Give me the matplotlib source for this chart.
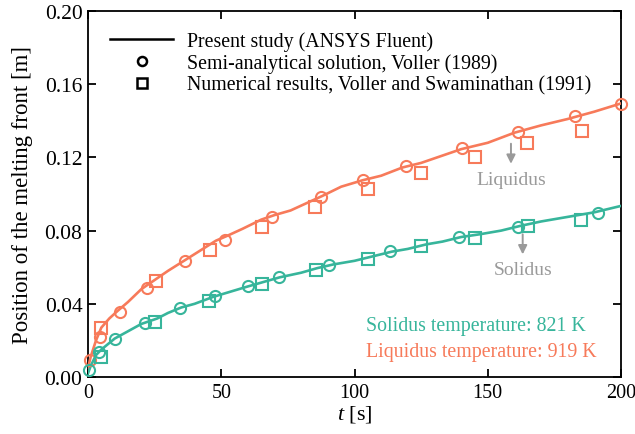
import matplotlib
matplotlib.use("Agg")
import matplotlib.pyplot as plt
from matplotlib.lines import Line2D

plt.rcParams['font.family'] = ['Liberation Serif', 'DejaVu Serif']
plt.rcParams['mathtext.fontset'] = 'custom'
plt.rcParams['mathtext.it'] = 'Liberation Serif:italic'
plt.rcParams['mathtext.rm'] = 'Liberation Serif'

ORANGE = '#F77A5A'
TEAL = '#37B59B'
GRAY = '#9A9A9A'

# Present study (lines)
liq_line_t = [0, 1, 3, 5, 8, 11, 15, 20, 25, 30, 36, 42, 48, 52, 58, 65, 70, 76, 82, 88, 95,
              103, 110, 118, 125, 132, 140, 150, 160, 170, 180, 190, 200]
liq_line_y = [0.005, 0.011, 0.020, 0.027, 0.032, 0.036, 0.041, 0.048, 0.053, 0.058, 0.0635,
              0.069, 0.0745, 0.077, 0.081, 0.086, 0.0885, 0.091, 0.095, 0.099, 0.104,
              0.1075, 0.110, 0.1145, 0.117, 0.1205, 0.1245, 0.128, 0.1335, 0.1375, 0.141,
              0.145, 0.1495]
sol_line_t = [0, 1, 3, 5, 10, 15, 20, 26, 30, 35, 40, 47, 52, 60, 66, 72, 80, 86, 92, 100,
              107, 114, 120, 127, 133, 140, 147, 155, 162, 170, 180, 190, 200]
sol_line_y = [0.002, 0.006, 0.012, 0.015, 0.021, 0.025, 0.029, 0.032, 0.035, 0.038, 0.040,
              0.0438, 0.046, 0.0495, 0.052, 0.0545, 0.057, 0.0595, 0.0615, 0.0635, 0.066,
              0.0685, 0.070, 0.0725, 0.074, 0.0765, 0.078, 0.080, 0.0825, 0.085, 0.0875,
              0.090, 0.0935]

# Semi-analytical solution (circles)
liq_circ_t = [0.8, 4.6, 11.9, 22.2, 36.5, 51.3, 69.0, 87.5, 103.2, 119.2, 140.3, 161.3, 182.9, 200]
liq_circ_y = [0.0091, 0.0218, 0.0356, 0.0487, 0.0633, 0.0751, 0.0876, 0.0985, 0.1076,
              0.1151, 0.1249, 0.1338, 0.1427, 0.1491]
sol_circ_t = [0.4, 4.1, 10.3, 21.3, 34.5, 47.7, 59.9, 71.8, 90.3, 113.2, 139.3, 161.3, 191.4]
sol_circ_y = [0.0036, 0.0136, 0.0209, 0.0295, 0.0376, 0.0442, 0.0496, 0.0545, 0.0613,
              0.0687, 0.0765, 0.0822, 0.0896]

# Numerical results (squares)
liq_sq_t = [5.0, 25.5, 45.6, 65.2, 85.0, 105.0, 124.9, 145.1, 164.7, 185.5]
liq_sq_y = [0.0269, 0.0524, 0.0693, 0.082, 0.0931, 0.1029, 0.1116, 0.1202, 0.1278, 0.1344]
sol_sq_t = [5.0, 25.1, 45.3, 65.2, 85.4, 105.2, 124.9, 145.1, 165.0, 184.8]
sol_sq_y = [0.0109, 0.0302, 0.0418, 0.0509, 0.0584, 0.0647, 0.0716, 0.0758, 0.0827, 0.086]

x_ticks = [0, 50, 100, 150, 200]
y_ticks = [0.00, 0.04, 0.08, 0.12, 0.16, 0.20]

fig = plt.figure(figsize=(6.35, 4.35), dpi=100)
ax = fig.add_axes([0.1386, 0.131, 0.8394, 0.8414])

ax.plot(liq_line_t, liq_line_y, color=ORANGE, lw=1.9, zorder=3)
ax.plot(sol_line_t, sol_line_y, color=TEAL, lw=1.9, zorder=3)

mk = dict(linestyle='none', markerfacecolor='none', markersize=8, markeredgewidth=1.5,
          zorder=4, clip_on=False)
ax.plot(liq_circ_t, liq_circ_y, marker='o', markeredgecolor=ORANGE, **mk)
ax.plot(sol_circ_t, sol_circ_y, marker='o', markeredgecolor=TEAL, **mk)
ax.plot(liq_sq_t, liq_sq_y, marker='s', markeredgecolor=ORANGE, **mk)
ax.plot(sol_sq_t, sol_sq_y, marker='s', markeredgecolor=TEAL, **mk)

ax.set_xlim(0, 200)
ax.set_ylim(0, 0.20)
ax.set_xticks(x_ticks)
ax.set_yticks(y_ticks)
ax.set_xticklabels([str(v) for v in x_ticks])
ax.set_yticklabels([f"{v:.2f}" for v in y_ticks])
ax.tick_params(direction='in', top=True, right=True, length=6, width=1.3, pad=4)
ax.tick_params(axis='y', labelsize=15.5)
ax.tick_params(axis='x', labelsize=14.5)
for s in ax.spines.values():
    s.set_linewidth(1.3)

ax.set_xlabel(r'$t$ [s]', fontsize=16, labelpad=1)
ax.set_ylabel('Position of the melting front [m]', fontsize=16.5, labelpad=8)

handles = [
    Line2D([], [], color='black', lw=1.8),
    Line2D([], [], color='black', marker='o', linestyle='none', markerfacecolor='none',
           markersize=6.5, markeredgewidth=1.8),
    Line2D([], [], color='black', marker='s', linestyle='none', markerfacecolor='none',
           markersize=6.5, markeredgewidth=1.8),
]
labels = ['Present study (ANSYS Fluent)', 'Semi-analytical solution, Voller (1989)',
          'Numerical results, Voller and Swaminathan (1991)']
ax.legend(handles, labels, loc='upper left', bbox_to_anchor=(0.041, 0.944),
          frameon=False, fontsize=14.3, handlelength=3.2, handletextpad=0.7,
          labelspacing=0.11, borderpad=0, borderaxespad=0)

# Arrows and labels
ax.annotate('', xy=(158.7, 0.1150), xytext=(158.7, 0.1290),
            arrowprops=dict(arrowstyle='-|>', color=GRAY, lw=1.4, mutation_scale=13))
ax.text(158.7, 0.1078, 'Liquidus', color=GRAY, fontsize=14, ha='center', va='center')
ax.annotate('', xy=(163.1, 0.0655), xytext=(163.1, 0.0795),
            arrowprops=dict(arrowstyle='-|>', color=GRAY, lw=1.4, mutation_scale=13))
ax.text(163.1, 0.0585, 'Solidus', color=GRAY, fontsize=14, ha='center', va='center')

ax.text(104.3, 0.0279, 'Solidus temperature: 821 K', color=TEAL, fontsize=14.3,
        ha='left', va='center')
ax.text(104.3, 0.0142, 'Liquidus temperature: 919 K', color=ORANGE, fontsize=14.3,
        ha='left', va='center')

fig.savefig('out.png', dpi=100)
